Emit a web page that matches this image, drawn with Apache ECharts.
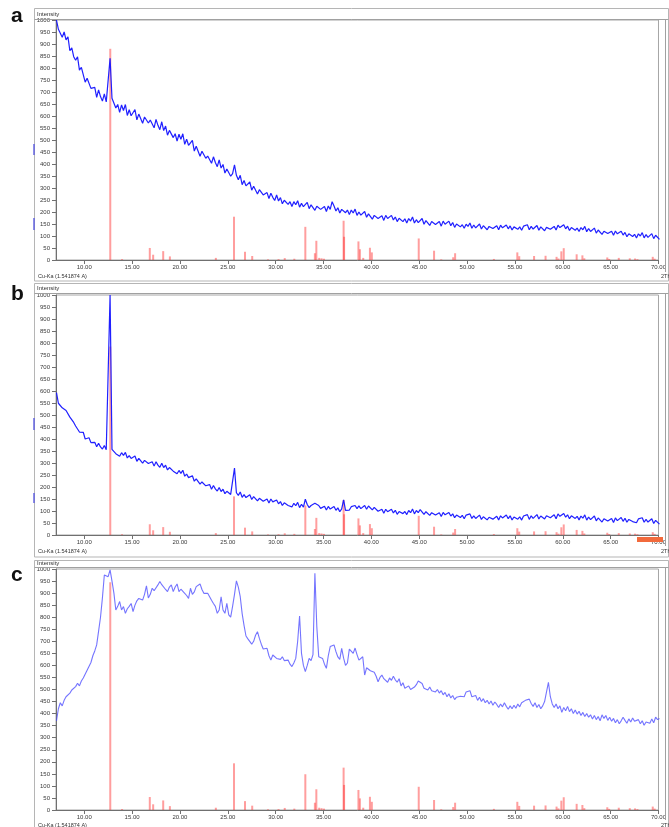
<!DOCTYPE html>
<html>
<head>
<meta charset="utf-8">
<script src="https://cdn.jsdelivr.net/npm/echarts@6/dist/echarts.min.js"></script>
<style>
  html, body { margin: 0; padding: 0; background: #fff; }
  #chart { width: 669px; height: 827px; }
</style>
</head>
<body>
<div id="chart"></div>
<script>
// Scan grid of the three diffractograms (degrees 2θ)
const scanStart = 7.1;
const scanStep = 0.2;

// Sample a – measured counts, one row per 2°
const intensityA = [
  1000, 961, 968, 928, 950, 917, 930, 872, 884, 847,
  832, 847, 791, 803, 796, 741, 757, 754, 715, 721,
  719, 678, 709, 681, 662, 692, 659, 663, 840, 674,
  671, 633, 648, 615, 646, 623, 648, 602, 626, 601,
  599, 627, 584, 608, 613, 570, 596, 602, 571, 583,
  588, 551, 586, 561, 543, 576, 539, 558, 520, 540,
  547, 510, 526, 495, 524, 503, 526, 482, 503, 478,
  475, 498, 454, 474, 475, 432, 453, 456, 424, 433,
  437, 403, 430, 406, 389, 417, 383, 398, 362, 379,
  383, 349, 360, 396, 353, 334, 353, 314, 331, 309,
  306, 325, 291, 307, 309, 275, 293, 296, 271, 279,
  281, 256, 278, 261, 248, 271, 246, 260, 234, 249,
  255, 232, 243, 223, 243, 230, 247, 220, 236, 222,
  222, 240, 214, 230, 234, 207, 224, 229, 211, 219,
  223, 202, 225, 211, 243, 225, 204, 218, 196, 211,
  218, 197, 208, 189, 208, 196, 212, 186, 200, 187,
  187, 202, 178, 192, 195, 170, 186, 189, 173, 181,
  184, 165, 186, 173, 165, 186, 167, 179, 160, 174,
  180, 160, 172, 154, 173, 162, 179, 154, 168, 156,
  157, 173, 149, 164, 167, 144, 160, 164, 148, 156,
  160, 141, 162, 149, 141, 162, 143, 156, 136, 150,
  155, 138, 147, 132, 149, 140, 154, 132, 146, 134,
  135, 150, 129, 143, 147, 126, 140, 145, 131, 139,
  143, 126, 145, 134, 128, 146, 130, 142, 125, 138,
  145, 128, 138, 124, 141, 133, 147, 126, 140, 129,
  129, 144, 124, 138, 142, 122, 136, 141, 128, 136,
  140, 125, 145, 135, 129, 147, 130, 141, 123, 135,
  141, 124, 133, 119, 135, 126, 140, 118, 131, 119,
  119, 133, 112, 125, 128, 107, 120, 124, 110, 117,
  120, 103, 121, 109, 102, 120, 104, 115, 97, 109,
  115, 98, 107, 92, 109, 100, 114, 92, 106, 94,
  95, 110, 89, 103, 106, 86
];

// Sample b – measured counts
const intensityB = [
  593, 549, 553, 530, 536, 519, 522, 491, 494, 469,
  454, 458, 429, 432, 428, 400, 407, 405, 385, 388,
  386, 368, 382, 367, 358, 373, 355, 363, 1000, 357,
  358, 339, 345, 328, 343, 332, 344, 321, 331, 319,
  316, 329, 307, 319, 320, 299, 311, 312, 298, 303,
  305, 287, 305, 291, 282, 299, 281, 291, 271, 281,
  285, 266, 272, 255, 269, 257, 270, 245, 254, 239,
  236, 247, 224, 234, 234, 212, 221, 222, 205, 209,
  210, 191, 206, 192, 183, 198, 181, 191, 172, 182,
  186, 169, 176, 279, 176, 165, 179, 157, 168, 156,
  155, 168, 148, 160, 162, 142, 153, 157, 141, 148,
  150, 133, 150, 138, 130, 146, 130, 139, 123, 134,
  139, 123, 131, 117, 132, 122, 136, 114, 128, 116,
  149, 127, 114, 123, 122, 132, 129, 123, 111, 118,
  120, 104, 119, 108, 101, 119, 103, 113, 97, 109,
  146, 103, 111, 104, 118, 111, 123, 110, 121, 110,
  108, 123, 107, 121, 128, 105, 115, 114, 99, 105,
  107, 91, 107, 97, 90, 107, 92, 103, 86, 98,
  104, 89, 98, 85, 102, 93, 108, 88, 102, 93,
  106, 100, 86, 97, 101, 82, 93, 98, 83, 90,
  93, 77, 94, 84, 76, 94, 79, 88, 72, 83,
  89, 73, 82, 68, 83, 75, 88, 69, 80, 69,
  70, 83, 65, 76, 81, 63, 74, 78, 66, 74,
  78, 63, 80, 71, 65, 83, 68, 80, 63, 75,
  81, 66, 76, 62, 79, 71, 85, 65, 80, 69,
  71, 85, 67, 79, 85, 67, 80, 84, 72, 80,
  84, 68, 88, 78, 72, 90, 74, 84, 68, 80,
  85, 69, 78, 63, 79, 70, 84, 62, 75, 64,
  64, 79, 59, 71, 74, 54, 68, 73, 58, 66,
  69, 52, 71, 60, 55, 73, 57, 70, 53, 65,
  71, 56, 64, 51, 67, 59, 72, 53, 65, 54,
  55, 68, 48, 61, 63, 45
];

// Sample c – measured counts
const intensityC = [
  370, 420, 445, 432, 455, 470, 462, 485, 498, 490,
  512, 526, 515, 535, 548, 545, 580, 572, 612, 640,
  660, 685, 742, 800, 880, 975, 978, 968, 996, 950,
  900, 830, 845, 865, 830, 844, 816, 835, 845, 857,
  823, 850, 868, 878, 872, 871, 895, 930, 880, 895,
  920, 910, 906, 934, 948, 935, 927, 915, 906, 925,
  934, 906, 925, 938, 906, 916, 912, 899, 890, 878,
  920, 895, 905, 927, 930, 938, 915, 899, 905, 899,
  885, 870, 857, 845, 816, 830, 885, 830, 816, 857,
  810, 800, 845, 895, 951, 925, 885, 815, 765, 722,
  710, 705, 688, 700, 725, 740, 712, 688, 668, 664,
  671, 640, 622, 643, 640, 629, 635, 625, 636, 620,
  615, 622, 605, 595, 610, 629, 700, 805, 650, 600,
  574, 600, 629, 620, 645, 982, 761, 636, 640, 629,
  605, 588, 640, 678, 680, 685, 657, 635, 625, 671,
  630, 600, 610, 668, 660, 650, 672, 645, 622, 630,
  636, 560, 590, 595, 578, 582, 572, 555, 532, 550,
  560, 545, 552, 530, 548, 538, 555, 540, 530, 545,
  515, 528, 505, 498, 515, 500, 492, 510, 520, 535,
  540, 525, 505, 512, 498, 510, 495, 502, 490, 500,
  485, 495, 478, 488, 470, 482, 465, 475, 458, 468,
  460, 472, 480, 470, 490, 485, 495, 470, 462, 475,
  455, 468, 450, 462, 445, 455, 440, 452, 435, 448,
  438, 425, 440, 428, 445, 430, 418, 432, 420, 435,
  422, 440, 428, 445, 438, 455, 448, 460, 442, 430,
  445, 425, 438, 420, 432, 450, 490, 530, 470, 440,
  425, 440, 420, 432, 405, 425, 412, 430, 408, 420,
  400, 415, 398, 410, 392, 405, 388, 400, 385, 395,
  378, 392, 375, 388, 370, 395, 380, 392, 372, 385,
  368, 380, 362, 375, 358, 370, 385, 372, 360, 378,
  365, 382, 368, 360, 375, 358, 370, 352, 365, 372,
  360, 378, 362, 385, 375, 380
];

// Reference pattern: line positions (2θ) and relative intensities (%)
const refTheta = [
  12.72, 13.95, 16.85, 17.20, 18.25, 18.95, 23.75,
  25.65, 26.80, 27.55, 29.20, 30.30, 30.95, 31.95,
  33.10, 34.10, 34.25, 34.55, 34.80, 35.05,
  37.10, 37.15, 38.65, 38.80, 39.15, 39.85, 40.05,
  44.95, 46.55, 47.30, 48.55, 48.75, 52.80,
  55.25, 55.45, 57.00, 58.20, 59.35, 59.55, 59.85, 60.10,
  61.45, 62.05, 62.25, 64.65, 64.85, 65.85, 67.00, 67.55, 67.80, 69.40, 69.60
];
const refRelInt = [
  100, 0.4, 5.7, 2.5, 4.2, 1.7, 1.0,
  20.5, 3.9, 1.9, 0.3, 0.4, 0.9, 0.6,
  15.7, 3.2, 9.1, 1.0, 0.8, 0.6,
  18.6, 11.0, 8.8, 5.1, 1.0, 5.8, 3.6,
  10.2, 4.4, 0.3, 1.3, 3.2, 0.5,
  3.6, 1.8, 1.9, 2.0, 1.5, 0.7, 4.1, 5.6,
  2.7, 2.2, 0.8, 1.2, 0.5, 1.0, 0.8, 0.7, 0.4, 1.5, 0.6
];
// Counts shown for the 100 % reference line in each panel
const refFullScale = [880, 785, 945];

// Axis tick values
const xTickValues = [10, 15, 20, 25, 30, 35, 40, 45, 50, 55, 60, 65, 70];
const panelLetters = ['a', 'b', 'c'];
const radiationLabel = 'Cu-Ka (1.541874 A)';
const xAxisTitle = '2Theta';
const yAxisTitle = 'Intensity';

const scans = [intensityA, intensityB, intensityC];

// ---- layout of the three stacked panels (pixels) ----
const panels = [
  { frameTop: 8,   sep: 19.5,  plotTop: 20,  plotBottom: 260, innerBottom: 272, footY: 276,   frameBottom: 280.5, letterY: 27,  titleY: 14,    marks: [[144, 155], [218, 230]] },
  { frameTop: 283, sep: 293.5, plotTop: 295, plotBottom: 535, innerBottom: 546, footY: 551,   frameBottom: 556.5, letterY: 305, titleY: 288.5, marks: [[418, 430], [493, 503]] },
  { frameTop: 560, sep: 567.5, plotTop: 569, plotBottom: 810, innerBottom: 820, footY: 825.5, frameBottom: 840,   letterY: 586, titleY: 563,   marks: [] }
];
const plotLeft = 56, plotRight = 665;
const frameLeft = 34.5, frameRight = 668.5;
const tinyFont = '"Liberation Sans", Arial, sans-serif';

function scanPoints(vals) {
  return vals.map((v, i) => [Math.round((scanStart + i * scanStep) * 100) / 100, v]);
}

const grids = [], xAxes = [], yAxes = [], series = [], graphics = [];

panels.forEach((p, k) => {
  grids.push({
    left: plotLeft, width: plotRight - plotLeft,
    top: p.plotTop, height: p.plotBottom - p.plotTop,
    show: true, borderColor: '#a6a6a6', borderWidth: 1, backgroundColor: 'transparent'
  });
  xAxes.push({
    type: 'value', gridIndex: k, min: 7.05, max: 70,
    axisLine: { show: true, onZero: false, lineStyle: { color: '#707070', width: 1 } },
    axisTick: { show: true, length: 4, customValues: xTickValues, lineStyle: { color: '#707070' } },
    axisLabel: {
      customValues: xTickValues, formatter: v => v.toFixed(2),
      fontSize: 6, fontFamily: tinyFont, color: '#3a3a3a', margin: 4
    },
    splitLine: { show: false }
  });
  yAxes.push({
    type: 'value', gridIndex: k, min: 0, max: 1000, interval: 50,
    axisLine: { show: true, onZero: false, lineStyle: { color: '#707070', width: 1 } },
    axisTick: { show: true, length: 4, lineStyle: { color: '#707070' } },
    axisLabel: { fontSize: 6, fontFamily: tinyFont, color: '#3a3a3a', margin: 6, formatter: v => String(v) },
    splitLine: { show: false }
  });

  // reference lines
  const full = refFullScale[k];
  series.push({
    type: 'custom', xAxisIndex: k, yAxisIndex: k, clip: true, z: 2,
    encode: { x: 0, y: 1 },
    data: refTheta.map((t, i) => [t, refRelInt[i] / 100 * full]),
    renderItem: (params, api) => {
      const base = api.coord([api.value(0), 0]);
      const top = api.coord([api.value(0), api.value(1)]);
      return {
        type: 'line',
        shape: { x1: base[0], y1: base[1], x2: top[0], y2: top[1] },
        style: { stroke: 'rgba(255,40,40,0.45)', lineWidth: 2 }
      };
    }
  });

  // measured scan
  series.push({
    type: 'line', xAxisIndex: k, yAxisIndex: k, z: 3,
    data: scanPoints(scans[k]),
    showSymbol: false, symbol: 'none', clip: true,
    lineStyle: k === 2
      ? { color: 'rgba(70,70,255,0.75)', width: 1.1 }
      : { color: 'rgba(20,20,255,0.95)', width: 1.2 }
  });

  // panel frame and captions
  graphics.push(
    { type: 'rect', shape: { x: frameLeft, y: p.frameTop + 0.5, width: frameRight - frameLeft, height: p.frameBottom - p.frameTop },
      style: { fill: 'none', stroke: '#b5b5b5', lineWidth: 1 }, z: 1 },
    { type: 'line', shape: { x1: frameLeft, y1: p.sep, x2: frameRight, y2: p.sep },
      style: { stroke: '#a0a0a0', lineWidth: 1 }, z: 1 },
    { type: 'line', shape: { x1: plotRight + 0.5, y1: p.sep, x2: plotRight + 0.5, y2: p.innerBottom },
      style: { stroke: '#a0a0a0', lineWidth: 1 }, z: 1 },
    { type: 'text', x: 11, y: p.letterY, z: 10,
      style: { text: panelLetters[k], font: 'bold 21px "Liberation Sans", Arial, sans-serif', fill: '#111', textVerticalAlign: 'bottom' } },
    { type: 'text', x: 37, y: p.titleY, z: 10,
      style: { text: yAxisTitle, font: '6px ' + tinyFont, fill: '#333', textVerticalAlign: 'middle' } },
    { type: 'text', x: 38, y: p.footY, z: 10,
      style: { text: radiationLabel, font: '5.5px ' + tinyFont, fill: '#333', textVerticalAlign: 'middle' } },
    { type: 'text', x: 661, y: p.footY, z: 10,
      style: { text: xAxisTitle, font: '5.5px ' + tinyFont, fill: '#333', textVerticalAlign: 'middle' } }
  );
  p.marks.forEach(m => graphics.push({
    type: 'rect', shape: { x: 33, y: m[0], width: 2, height: m[1] - m[0] },
    style: { fill: 'rgba(90,90,225,0.7)' }, z: 5
  }));
});

// range marker at the end of the b axis
graphics.push({
  type: 'rect', shape: { x: 637, y: 537, width: 26, height: 5 },
  style: { fill: '#f26a3c' }, z: 100
});

const chart = echarts.init(document.getElementById('chart'), null, { renderer: 'canvas' });
chart.setOption({
  animation: false,
  backgroundColor: '#ffffff',
  grid: grids,
  xAxis: xAxes,
  yAxis: yAxes,
  series: series,
  graphic: { elements: graphics }
});
</script>
</body>
</html>
